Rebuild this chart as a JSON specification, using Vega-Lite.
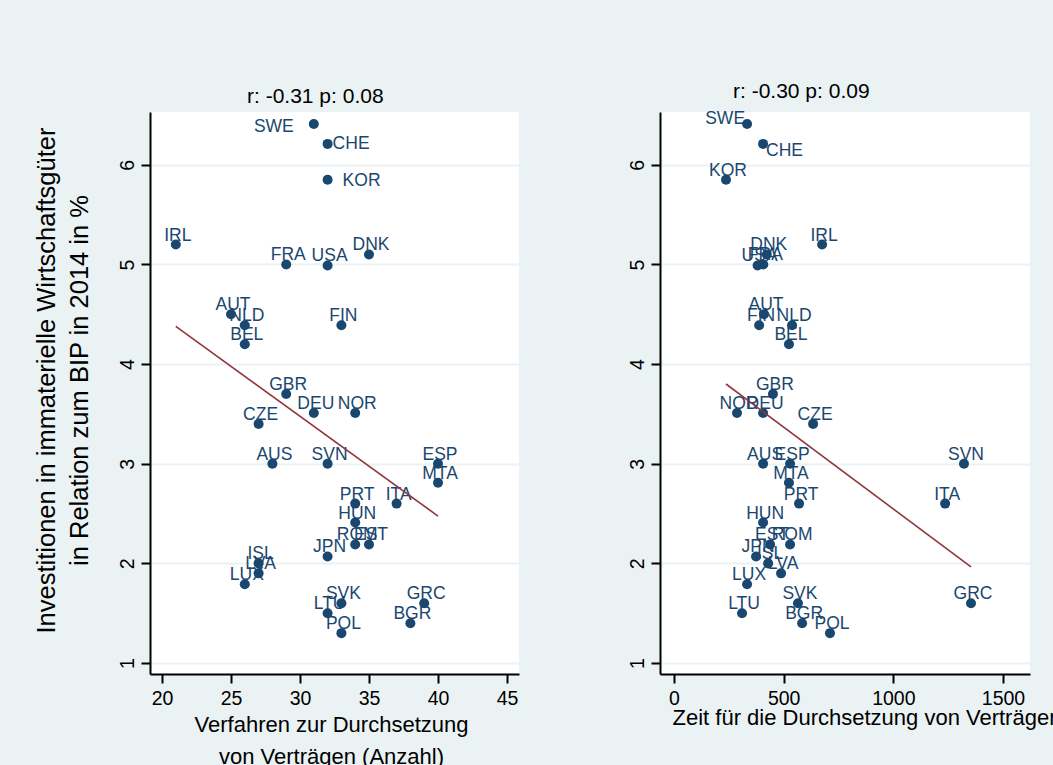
{
  "$schema": "https://vega.github.io/schema/vega-lite/v6.json",
  "autosize": {"type": "none"},
  "padding": {"left": 150, "top": 112, "right": 903, "bottom": 653},
  "background": "#EAF2F3",
  "bounds": "flush",
  "spacing": 141,
  "datasets": {
    "d": [
      {"country": "SWE", "verf": 31, "zeit": 333, "inv": 6.41, "posL": "l", "posR": "ul"},
      {"country": "CHE", "verf": 32, "zeit": 406, "inv": 6.21, "posL": "rn", "posR": "dr"},
      {"country": "KOR", "verf": 32, "zeit": 237, "inv": 5.85, "posL": "r", "posR": "t"},
      {"country": "IRL", "verf": 21, "zeit": 675, "inv": 5.2, "posL": "t", "posR": "t"},
      {"country": "FRA", "verf": 29, "zeit": 407, "inv": 5.0, "posL": "t", "posR": "t"},
      {"country": "USA", "verf": 32, "zeit": 381, "inv": 4.99, "posL": "t", "posR": "t"},
      {"country": "DNK", "verf": 35, "zeit": 423, "inv": 5.1, "posL": "t", "posR": "t"},
      {"country": "AUT", "verf": 25, "zeit": 410, "inv": 4.5, "posL": "t", "posR": "t"},
      {"country": "NLD", "verf": 26, "zeit": 538, "inv": 4.39, "posL": "t", "posR": "t"},
      {"country": "BEL", "verf": 26, "zeit": 524, "inv": 4.2, "posL": "t", "posR": "t"},
      {"country": "FIN", "verf": 33, "zeit": 388, "inv": 4.39, "posL": "t", "posR": "t"},
      {"country": "GBR", "verf": 29, "zeit": 451, "inv": 3.7, "posL": "t", "posR": "t"},
      {"country": "DEU", "verf": 31, "zeit": 406, "inv": 3.51, "posL": "t", "posR": "t"},
      {"country": "NOR", "verf": 34, "zeit": 287, "inv": 3.51, "posL": "t", "posR": "t"},
      {"country": "CZE", "verf": 27, "zeit": 634, "inv": 3.4, "posL": "t", "posR": "t"},
      {"country": "AUS", "verf": 28, "zeit": 406, "inv": 3.0, "posL": "t", "posR": "t"},
      {"country": "SVN", "verf": 32, "zeit": 1322, "inv": 3.0, "posL": "t", "posR": "t"},
      {"country": "ESP", "verf": 40, "zeit": 529, "inv": 3.0, "posL": "t", "posR": "t"},
      {"country": "MTA", "verf": 40, "zeit": 524, "inv": 2.81, "posL": "t", "posR": "t"},
      {"country": "PRT", "verf": 34, "zeit": 570, "inv": 2.6, "posL": "t", "posR": "t"},
      {"country": "ITA", "verf": 37, "zeit": 1236, "inv": 2.6, "posL": "t", "posR": "t"},
      {"country": "HUN", "verf": 34, "zeit": 406, "inv": 2.41, "posL": "t", "posR": "t"},
      {"country": "ROM", "verf": 34, "zeit": 529, "inv": 2.19, "posL": "t", "posR": "t"},
      {"country": "EST", "verf": 35, "zeit": 438, "inv": 2.19, "posL": "t", "posR": "t"},
      {"country": "JPN", "verf": 32, "zeit": 374, "inv": 2.07, "posL": "t", "posR": "t"},
      {"country": "ISL", "verf": 27, "zeit": 429, "inv": 2.0, "posL": "t", "posR": "t"},
      {"country": "LVA", "verf": 27, "zeit": 488, "inv": 1.9, "posL": "t", "posR": "t"},
      {"country": "LUX", "verf": 26, "zeit": 333, "inv": 1.79, "posL": "t", "posR": "t"},
      {"country": "SVK", "verf": 33, "zeit": 565, "inv": 1.6, "posL": "t", "posR": "t"},
      {"country": "LTU", "verf": 32, "zeit": 310, "inv": 1.5, "posL": "t", "posR": "t"},
      {"country": "POL", "verf": 33, "zeit": 711, "inv": 1.3, "posL": "t", "posR": "t"},
      {"country": "GRC", "verf": 39, "zeit": 1354, "inv": 1.6, "posL": "t", "posR": "t"},
      {"country": "BGR", "verf": 38, "zeit": 584, "inv": 1.4, "posL": "t", "posR": "t"}
    ]
  },
  "config": {
    "font": "Liberation Sans",
    "view": {"fill": "white", "stroke": null},
    "axis": {
      "domainColor": "black", "domainWidth": 2,
      "tickColor": "black", "tickWidth": 2, "tickSize": 9,
      "labelFont": "Liberation Sans", "labelFontSize": 19.5, "labelColor": "black",
      "titleFont": "Liberation Sans", "titleColor": "black", "titleFontWeight": "normal",
      "gridColor": "#EAF2F3", "gridWidth": 1.8
    },
    "title": {"font": "Liberation Sans", "fontWeight": "normal", "color": "black", "fontSize": 21}
  },
  "hconcat": [
    {
      "width": 369,
      "height": 562,
      "data": {"name": "d"},
      "title": {"text": "r: -0.31 p: 0.08", "anchor": "start", "frame": "group", "dx": 97, "dy": 20, "offset": 8, "baseline": "alphabetic"},
      "encoding": {
        "x": {
          "field": "verf", "type": "quantitative",
          "scale": {"domain": [19.13, 45.87], "nice": false, "zero": false},
          "axis": {
            "values": [20, 25, 30, 35, 40, 45], "grid": false, "labelAngle": 0, "labelPadding": 6,
            "title": ["Verfahren zur Durchsetzung", "von Verträgen (Anzahl)"],
            "titleFontSize": 22, "titleLineHeight": 32, "titleBaseline": "alphabetic",
            "titleAlign": "center", "titleX": 181, "titleY": 57
          }
        },
        "y": {
          "field": "inv", "type": "quantitative",
          "scale": {"domain": [0.89, 6.53], "nice": false, "zero": false},
          "axis": {
            "values": [1, 2, 3, 4, 5, 6], "grid": true, "labelAngle": -90, "labelPadding": 4,
            "title": ["Investitionen in immaterielle Wirtschaftsgüter", "in Relation zum BIP in 2014 in %"],
            "titleFontSize": 25.5, "titleLineHeight": 33, "titleBaseline": "alphabetic",
            "titleAlign": "center", "titleAngle": -90, "titleX": -96, "titleY": 268
          }
        }
      },
      "layer": [
        {"mark": {"type": "circle", "size": 100, "color": "#1A476F", "opacity": 1}},
        {"transform": [{"filter": "datum.posL == 't'"}], "mark": {"type": "text", "align": "center", "baseline": "alphabetic", "dx": 2, "dy": -4, "fontSize": 17.5, "color": "#1A476F"}, "encoding": {"text": {"field": "country"}}},
        {"transform": [{"filter": "datum.posL == 'l'"}], "mark": {"type": "text", "align": "right", "baseline": "alphabetic", "dx": -20, "dy": 8, "fontSize": 17.5, "color": "#1A476F"}, "encoding": {"text": {"field": "country"}}},
        {"transform": [{"filter": "datum.posL == 'r'"}], "mark": {"type": "text", "align": "left", "baseline": "alphabetic", "dx": 15, "dy": 6, "fontSize": 17.5, "color": "#1A476F"}, "encoding": {"text": {"field": "country"}}},
        {"transform": [{"filter": "datum.posL == 'rn'"}], "mark": {"type": "text", "align": "left", "baseline": "alphabetic", "dx": 5, "dy": 5, "fontSize": 17.5, "color": "#1A476F"}, "encoding": {"text": {"field": "country"}}},
        {"transform": [{"regression": "inv", "on": "verf"}], "mark": {"type": "line", "color": "#90353B", "strokeWidth": 1.6}}
      ]
    },
    {
      "width": 370,
      "height": 562,
      "data": {"name": "d"},
      "title": {"text": "r: -0.30 p: 0.09", "anchor": "start", "frame": "group", "dx": 73, "dy": 22, "offset": 13, "baseline": "alphabetic"},
      "encoding": {
        "x": {
          "field": "zeit", "type": "quantitative",
          "scale": {"domain": [-64, 1623], "nice": false, "zero": false},
          "axis": {
            "values": [0, 500, 1000, 1500], "format": "d", "grid": false, "labelAngle": 0, "labelPadding": 6,
            "title": "Zeit für die Durchsetzung von Verträgen",
            "titleFontSize": 22, "titleBaseline": "alphabetic",
            "titleAlign": "left", "titleX": 12, "titleY": 50
          }
        },
        "y": {
          "field": "inv", "type": "quantitative",
          "scale": {"domain": [0.89, 6.53], "nice": false, "zero": false},
          "axis": {"values": [1, 2, 3, 4, 5, 6], "grid": true, "labelAngle": -90, "labelPadding": 4, "title": null}
        }
      },
      "layer": [
        {"mark": {"type": "circle", "size": 100, "color": "#1A476F", "opacity": 1}},
        {"transform": [{"filter": "datum.posR == 't'"}], "mark": {"type": "text", "align": "center", "baseline": "alphabetic", "dx": 2, "dy": -4, "fontSize": 17.5, "color": "#1A476F"}, "encoding": {"text": {"field": "country"}}},
        {"transform": [{"filter": "datum.posR == 'ul'"}], "mark": {"type": "text", "align": "right", "baseline": "alphabetic", "dx": -2, "dy": 0, "fontSize": 17.5, "color": "#1A476F"}, "encoding": {"text": {"field": "country"}}},
        {"transform": [{"filter": "datum.posR == 'dr'"}], "mark": {"type": "text", "align": "left", "baseline": "alphabetic", "dx": 3, "dy": 12, "fontSize": 17.5, "color": "#1A476F"}, "encoding": {"text": {"field": "country"}}},
        {"transform": [{"regression": "inv", "on": "zeit"}], "mark": {"type": "line", "color": "#90353B", "strokeWidth": 1.6}}
      ]
    }
  ]
}
